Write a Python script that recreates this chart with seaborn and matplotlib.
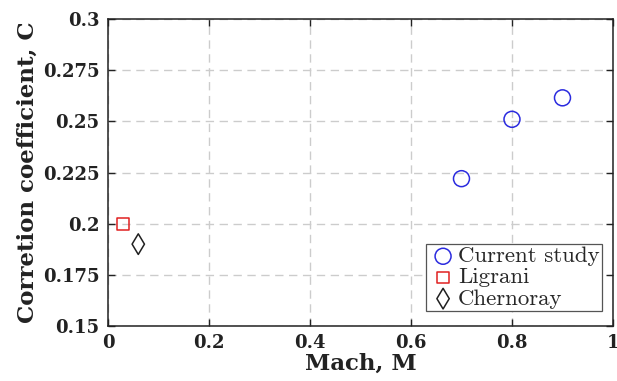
import matplotlib
matplotlib.use("Agg")
import matplotlib.pyplot as plt
import seaborn as sns
import pandas as pd

# Data
current_mach = [0.7, 0.8, 0.9]
current_c = [0.222, 0.251, 0.2615]
ligrani_mach = [0.03]
ligrani_c = [0.2]
chernoray_mach = [0.06]
chernoray_c = [0.19]

x_ticks = [0, 0.2, 0.4, 0.6, 0.8, 1.0]
x_tick_labels = ["0", "0.2", "0.4", "0.6", "0.8", "1"]
y_ticks = [0.15, 0.175, 0.2, 0.225, 0.25, 0.275, 0.3]
y_tick_labels = ["0.15", "0.175", "0.2", "0.225", "0.25", "0.275", "0.3"]

sns.set_style("ticks")
plt.rcParams['font.family'] = ['cmr10', 'DejaVu Serif']
plt.rcParams['axes.unicode_minus'] = False
plt.rcParams['axes.formatter.use_mathtext'] = True

BOLD = {"family": "DejaVu Serif", "weight": "bold"}

fig = plt.figure(figsize=(6.17, 3.81), dpi=100)
ax = fig.add_axes([0.175, 0.1444, 0.8185, 0.8056])

series = [
    ("Current study", current_mach, current_c, "o", "#2b2bdf", 11.5),
    ("Ligrani", ligrani_mach, ligrani_c, "s", "#e02020", 8.5),
    ("Chernoray", chernoray_mach, chernoray_c, "d", "#202020", 10.5),
]
for name, xs, ys, mk, col, ms in series:
    df = pd.DataFrame({"Mach": xs, "C": ys})
    sns.scatterplot(data=df, x="Mach", y="C", marker=mk, s=ms**2,
                    facecolor="none", edgecolor=col, linewidth=1.1,
                    label=name, ax=ax, zorder=3)

ax.set_xlim(0, 1)
ax.set_ylim(0.15, 0.3)
ax.set_xticks(x_ticks)
ax.set_xticklabels(x_tick_labels, fontsize=13, **BOLD)
ax.set_yticks(y_ticks)
ax.set_yticklabels(y_tick_labels, fontsize=13, **BOLD)
ax.tick_params(direction="in", length=5, width=1, top=True, right=True,
               colors="#222222", pad=6)
for lab in ax.get_xticklabels() + ax.get_yticklabels():
    lab.set_color("#222222")

ax.grid(True, linestyle=(0, (6, 4)), color="#cccccc", linewidth=1.0)
ax.set_axisbelow(True)
for sp in ax.spines.values():
    sp.set_visible(True)
    sp.set_color("#222222")
    sp.set_linewidth(1.1)

ax.set_xlabel("Mach, M", fontsize=16.5, color="#222222", labelpad=0, **BOLD)
ax.set_ylabel("Corretion coefficient, C", fontsize=16.5,
              color="#222222", labelpad=3, **BOLD)

leg = ax.legend(loc="lower right", bbox_to_anchor=(0.978, 0.049),
                fancybox=False, framealpha=1,
                edgecolor="#555555", prop={"family": "cmr10", "size": 16.5},
                handletextpad=0.0, borderpad=0.1, labelspacing=0.05,
                handlelength=1.3, borderaxespad=0)
leg.get_frame().set_linewidth(0.9)

fig.savefig("out.png", dpi=100)
